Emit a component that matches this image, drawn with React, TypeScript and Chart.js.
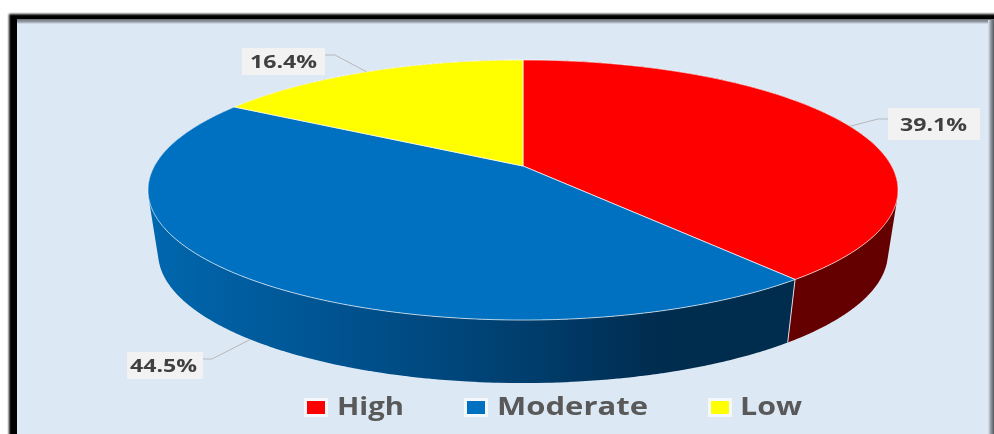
import React, { useEffect, useRef } from "react";
import { Chart, registerables } from "chart.js";

Chart.register(...registerables);

const categories = ["High", "Moderate", "Low"];
const shares = [39.1, 44.5, 16.4];
const faceColors = ["#ff0000", "#0070c0", "#ffff00"];
const wallColors = ["#640000", "#00528f", "#8a8a00"];

// Perspective of the tilted disc: unit circle -> screen
const P = { cx: 523, topY: 166, botY: 229, a: 368.6, b: 125.6, k: 0.1846, botScale: 0.973 };
const project = (t: number, bottom = false) => {
  const u = Math.cos(t), v = Math.sin(t), d = 1 - P.k * v;
  const s = bottom ? P.botScale : 1;
  return { x: P.cx + (P.a * s * u) / d, y: (bottom ? P.botY : P.topY) + (P.b * v) / d };
};
const STEP = Math.PI / 180;
type Pt = { x: number; y: number };

// Adds a triangle with a fixed winding, so overlaps never cancel when filled together
function addTriangle(ctx: CanvasRenderingContext2D, p: Pt, q: Pt, r: Pt) {
  const area = (q.x - p.x) * (r.y - p.y) - (q.y - p.y) * (r.x - p.x);
  const [m, n] = area >= 0 ? [q, r] : [r, q];
  ctx.moveTo(p.x, p.y);
  ctx.lineTo(m.x, m.y);
  ctx.lineTo(n.x, n.y);
  ctx.closePath();
}

// Callout placement: box [x, y, w, h], text left / baseline, elbow x / y
const callouts = [
  { box: [888, 108, 92, 32], tx: 900, ty: 131, ex: 878, ey: 119, sx: 888 },
  { box: [127, 352, 76, 27], tx: 130, ty: 372, ex: 212, ey: 359, sx: 203 },
  { box: [242, 48, 83, 27], tx: 250, ty: 68, ex: 335, ey: 55, sx: 325 },
];
// Legend placement: box left, text left, text width
const legendSlots = [
  { bx: 307, tx: 337, w: 67 },
  { bx: 467, tx: 497, w: 151 },
  { bx: 711, tx: 740, w: 62 },
];

function stretchText(ctx: CanvasRenderingContext2D, s: string, x: number, y: number, w: number) {
  ctx.save();
  const m = ctx.measureText(s).width;
  ctx.translate(x, y);
  ctx.scale(w / m, 1);
  ctx.textAlign = "left";
  ctx.textBaseline = "alphabetic";
  ctx.fillText(s, 0, 0);
  ctx.restore();
}

const framePlugin = {
  id: "frame",
  beforeDraw(chart: any) {
    const { ctx, width, height } = chart;
    ctx.save();
    ctx.fillStyle = "#ffffff";
    ctx.fillRect(0, 0, width, height);
    ctx.filter = "blur(1.2px)";
    ctx.fillStyle = "#000000";
    ctx.fillRect(9, 14, width + 20, height + 20);
    ctx.filter = "none";
    ctx.fillStyle = "#dde8f5";
    ctx.fillRect(17, 20, width, height);
    const top = ctx.createLinearGradient(0, 19, 0, 24);
    top.addColorStop(0, "#6a6f75");
    top.addColorStop(0.6, "#9aa0a8");
    top.addColorStop(1, "#dde8f5");
    ctx.fillStyle = top;
    ctx.fillRect(17, 19, width, 5);
    const right = ctx.createLinearGradient(988, 0, 994, 0);
    right.addColorStop(0, "#dde8f5");
    right.addColorStop(0.5, "#8f959d");
    right.addColorStop(1, "#555a60");
    ctx.fillStyle = right;
    ctx.fillRect(988, 20, 6, height);
    ctx.restore();
  },
};

const piePlugin = {
  id: "perspectivePie",
  beforeDatasetsDraw(chart: any) {
    const { ctx } = chart;
    const arcs = chart.getDatasetMeta(0).data;
    const wallBlue = ctx.createLinearGradient(150, 0, 790, 0);
    wallBlue.addColorStop(0, "#0067ae");
    wallBlue.addColorStop(0.3, "#00528f");
    wallBlue.addColorStop(0.6, "#003d6c");
    wallBlue.addColorStop(0.8, "#002c4e");
    wallBlue.addColorStop(1, "#002c4e");

    ctx.save();
    // walls: all facets of a slice in one path, so no seams between them
    [2, 0, 1].forEach((i) => {
      const { startAngle: s, endAngle: e } = arcs[i];
      ctx.fillStyle = i === 1 ? wallBlue : wallColors[i];
      ctx.beginPath();
      for (let t = s; t < e; t += STEP) {
        const t2 = Math.min(t + STEP * 1.5, e);
        const a1 = project(t), a2 = project(t2), b2 = project(t2, true), b1 = project(t, true);
        addTriangle(ctx, a1, a2, b2);
        addTriangle(ctx, a1, b2, b1);
      }
      ctx.fill();
    });
    // seam on the front wall
    const seam = arcs[0].endAngle;
    const a = project(seam), b = project(seam, true);
    ctx.strokeStyle = "#d9dde2";
    ctx.lineWidth = 1;
    ctx.beginPath();
    ctx.moveTo(a.x, a.y);
    ctx.lineTo(b.x, b.y);
    ctx.stroke();
    // top faces
    arcs.forEach((arc: any, i: number) => {
      ctx.beginPath();
      ctx.moveTo(P.cx, P.topY);
      for (let t = arc.startAngle; t < arc.endAngle; t += STEP / 2) {
        const p = project(t);
        ctx.lineTo(p.x, p.y);
      }
      const pe2 = project(arc.endAngle);
      ctx.lineTo(pe2.x, pe2.y);
      ctx.closePath();
      ctx.fillStyle = faceColors[i];
      ctx.fill();
      ctx.strokeStyle = "rgba(255,255,255,0.85)";
      ctx.lineWidth = 0.8;
      ctx.stroke();
    });
    ctx.restore();
    return false;
  },
};

const annotationPlugin = {
  id: "callouts",
  afterDraw(chart: any) {
    const { ctx } = chart;
    const arcs = chart.getDatasetMeta(0).data;
    ctx.save();
    arcs.forEach((arc: any, i: number) => {
      const c = callouts[i];
      const mid = (arc.startAngle + arc.endAngle) / 2;
      const anchor = project(mid, Math.sin(mid) > 0);
      ctx.strokeStyle = "#b5b8bb";
      ctx.lineWidth = 1;
      ctx.beginPath();
      ctx.moveTo(anchor.x, anchor.y);
      ctx.lineTo(c.ex, c.ey);
      ctx.lineTo(c.sx, c.ey);
      ctx.stroke();
      ctx.fillStyle = "#f2f2f2";
      ctx.fillRect(c.box[0], c.box[1], c.box[2], c.box[3]);
      ctx.fillStyle = "#404040";
      ctx.font = 'bold 18px "Open Sans"';
      stretchText(ctx, `${shares[i].toFixed(1)}%`, c.tx, c.ty, 67);
    });
    categories.forEach((label, i) => {
      const s = legendSlots[i];
      ctx.fillStyle = "#f4f8fc";
      ctx.fillRect(s.bx - 3, 398, 24, 19);
      ctx.fillStyle = faceColors[i];
      ctx.fillRect(s.bx, 401, 18, 13);
      ctx.fillStyle = "#595959";
      ctx.font = 'bold 25px "Open Sans"';
      stretchText(ctx, label, s.tx, 415, s.w);
    });
    ctx.restore();
  },
};

export default function App() {
  const ref = useRef<HTMLCanvasElement>(null);
  useEffect(() => {
    if (!ref.current) return;
    const chart = new Chart(ref.current, {
      type: "pie",
      data: {
        labels: categories,
        datasets: [{ data: shares, backgroundColor: faceColors, borderWidth: 0 }],
      },
      options: {
        responsive: false,
        animation: false,
        plugins: { legend: { display: false }, tooltip: { enabled: false } },
      },
      plugins: [framePlugin, piePlugin, annotationPlugin],
    });
    return () => chart.destroy();
  }, []);
  return (
    <canvas
      ref={ref}
      width={994}
      height={434}
      style={{ position: "fixed", left: 0, top: 0, width: 994, height: 434 }}
    />
  );
}
